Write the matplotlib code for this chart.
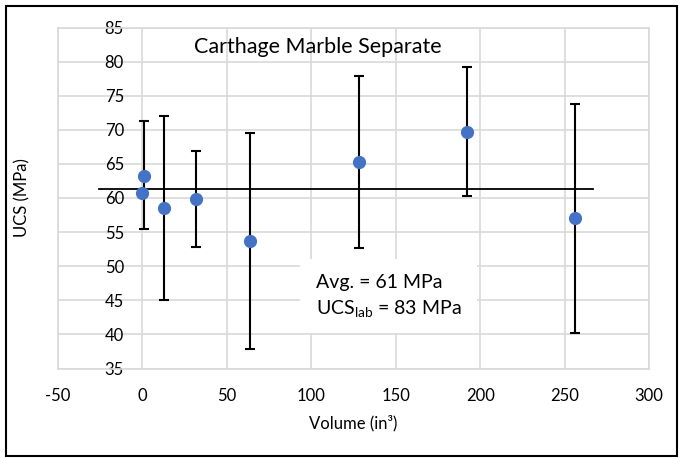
import matplotlib.pyplot as plt
from matplotlib.patches import Rectangle

# volume (in^3) and UCS (MPa)
volume = [0, 1, 12.5, 32, 64, 128, 192, 256]
ucs = [60.7, 63.2, 58.6, 59.8, 53.7, 65.3, 69.7, 57.0]
err_low = [0, 7.8, 13.5, 7.0, 15.9, 12.6, 9.4, 16.8]
err_high = [0, 8.1, 13.4, 7.1, 15.8, 12.6, 9.5, 16.8]
avg_ucs = 61.3
avg_span = [-25.5, 267]

plt.rcParams['font.family'] = ['Lato', 'DejaVu Sans']
plt.rcParams['mathtext.fontset'] = 'custom'
plt.rcParams['mathtext.rm'] = 'Lato'
plt.rcParams['axes.unicode_minus'] = False

fig = plt.figure(figsize=(6.81, 4.58), dpi=100)
ax = fig.add_axes([58 / 681, 1 - 368.5 / 458, 591 / 681, 341 / 458])

grid_c = '#d9d9d9'
ax.set_xlim(-50, 300)
ax.set_ylim(35, 85)
ax.set_xticks(range(-50, 301, 50))
ax.set_yticks(range(35, 86, 5))
ax.grid(True, color=grid_c, linewidth=1.2)
ax.set_axisbelow(True)
for s in ax.spines.values():
    s.set_color(grid_c)
    s.set_linewidth(1.2)
ax.tick_params(length=0, labelsize=12, colors='black')
ax.tick_params(axis='x', pad=14)
# y labels sit inside the plot area, right-aligned near x = -10
ax.tick_params(axis='y', pad=-47.5)

ax.plot(avg_span, [avg_ucs, avg_ucs], color='black', lw=1.3, zorder=2)

bars = [i for i in range(len(volume)) if err_low[i] or err_high[i]]
ax.errorbar([volume[i] for i in bars], [ucs[i] for i in bars],
            yerr=[[err_low[i] for i in bars], [err_high[i] for i in bars]],
            fmt='none', ecolor='black', elinewidth=1.5, capsize=3.3,
            capthick=1.5, zorder=3)
ax.plot(volume, ucs, 'o', color='#4472C4', markersize=8.5, zorder=4)

ax.set_xlabel('Volume (in³)', fontsize=12, va='center')
ax.xaxis.set_label_coords(0.5, -0.160)
ax.set_ylabel('UCS (MPa)', fontsize=12, va='center')
ax.yaxis.set_label_coords(-0.061, 0.5)

fig.text(318 / 681, 1 - 47 / 458, 'Carthage Marble Separate',
         fontsize=15.5, ha='center', va='center')

ax.add_patch(Rectangle((0.4095, 0.1035), 0.2995, 0.217, transform=ax.transAxes,
                       facecolor='white', edgecolor='none', zorder=5))
ax.text(0.4365, 0.253, 'Avg. = 61 MPa', transform=ax.transAxes,
        fontsize=14, va='center', zorder=6)
ax.text(0.4365, 0.174, 'UCS$_{\\mathrm{lab}}$ = 83 MPa', transform=ax.transAxes,
        fontsize=14, va='center', zorder=6)

fig.patches.append(Rectangle((6 / 681, 2 / 458), 671 / 681, 450 / 458,
                             transform=fig.transFigure, fill=False,
                             edgecolor='black', linewidth=1.5))

fig.savefig('out.png', dpi=100)
